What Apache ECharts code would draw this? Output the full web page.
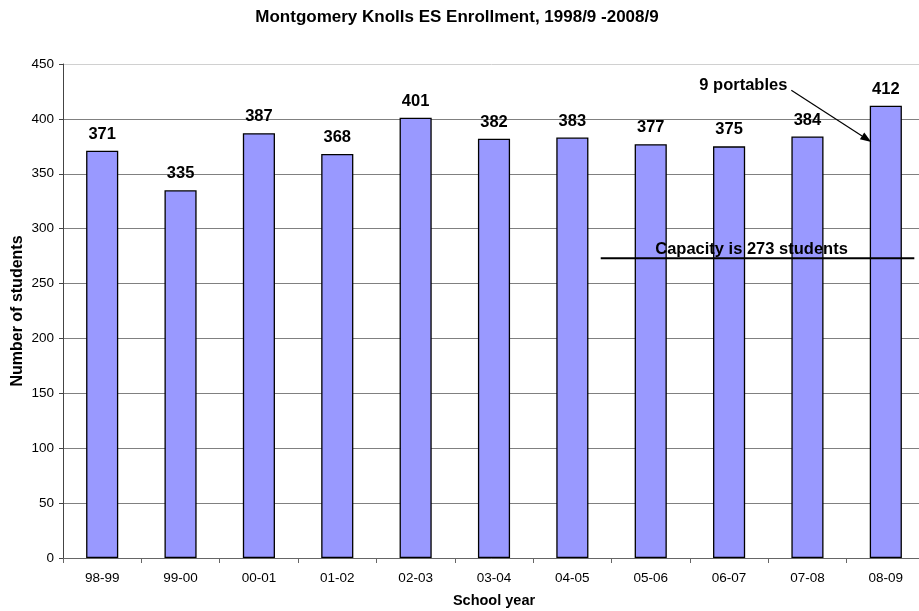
<!DOCTYPE html>
<html><head><meta charset="utf-8">
<script src="https://cdn.jsdelivr.net/npm/echarts@6/dist/echarts.min.js"></script>
<style>html,body{margin:0;padding:0;background:#fff}#c{width:919px;height:611px}</style>
</head><body><div id="c"></div>
<script>
const categories = ['98-99','99-00','00-01','01-02','02-03','03-04','04-05','05-06','06-07','07-08','08-09'];
const enrollment = [371,335,387,368,401,382,383,377,375,384,412];
const capacity = 273;
const yTicks = [0,50,100,150,200,250,300,350,400,450];

const chart = echarts.init(document.getElementById('c'));
const F = '"Liberation Sans", Arial, sans-serif';
const splitColors = yTicks.map((v,i)=> i===yTicks.length-1 ? '#d0d0d0' : '#808080');
chart.setOption({
  animation:false,
  backgroundColor:'#fff',
  title:{text:'Montgomery Knolls ES Enrollment, 1998/9 -2008/9',left:452,top:4,textAlign:'center',
    textStyle:{fontFamily:F,fontSize:17,fontWeight:'bold',color:'#000'}},
  grid:{left:63,top:64,width:862,height:494,show:false,containLabel:false,outerBoundsMode:'none'},
  xAxis:{type:'category',data:categories,name:'School year',nameLocation:'middle',nameGap:35,
    nameTextStyle:{fontFamily:F,fontSize:14.5,fontWeight:'bold',color:'#000'},
    axisLine:{lineStyle:{color:'#666'}},axisTick:{show:true,length:5,lineStyle:{color:'#666'}},
    axisLabel:{fontFamily:F,fontSize:13.5,color:'#000',margin:13}},
  yAxis:{type:'value',min:yTicks[0],max:yTicks[yTicks.length-1],interval:50,name:'Number of students',
    nameLocation:'middle',nameGap:37,nameMoveOverlap:false,nameTextStyle:{fontFamily:F,fontSize:16,fontWeight:'bold',color:'#000'},
    axisLine:{show:true,lineStyle:{color:'#444'}},axisTick:{show:true,length:4,lineStyle:{color:'#444'}},
    axisLabel:{fontFamily:F,fontSize:13.5,color:'#000',margin:9},
    splitLine:{lineStyle:{color:splitColors,width:1}}},
  series:[{type:'bar',data:enrollment,barWidth:'41%',
    itemStyle:{color:'#9999FF',borderColor:'#000',borderWidth:1.3},
    label:{show:true,position:'top',distance:8,fontFamily:F,fontSize:16.5,fontWeight:'bold',color:'#000'}}]
});

// annotations positioned via axis conversion
const px = c => chart.convertToPixel({xAxisIndex:0}, c);
const py = v => chart.convertToPixel({yAxisIndex:0}, v);
const capY = py(capacity);
const xCap0 = px('05-06') - 50;
const xCap1 = px('08-09') + 28.5;
const lastX = px('08-09');
const ax0 = lastX - 94.5, ay0 = py(426);
const ax1 = lastX - 14.5, ay1 = py(379);
const ang = Math.atan2(ay1-ay0, ax1-ax0);
const hl = 11, hw = 4;
const bx = ax1 - hl*Math.cos(ang), by = ay1 - hl*Math.sin(ang);
chart.setOption({graphic:[
  {type:'line',shape:{x1:xCap0,y1:capY,x2:xCap1,y2:capY},style:{stroke:'#000',lineWidth:2},z:100},
  {type:'text',x:(xCap0+xCap1)/2-6,y:capY-8.5,style:{text:'Capacity is 273 students',font:'bold 16.5px '+F,fill:'#000',textAlign:'center',textVerticalAlign:'middle'},z:101},
  {type:'text',x:ax0-4,y:ay0-5,style:{text:'9 portables',font:'bold 16.5px '+F,fill:'#000',textAlign:'right',textVerticalAlign:'middle'},z:100},
  {type:'line',shape:{x1:ax0,y1:ay0,x2:bx,y2:by},style:{stroke:'#000',lineWidth:1.2},z:100},
  {type:'polygon',shape:{points:[[ax1,ay1],[bx+hw*Math.sin(ang),by-hw*Math.cos(ang)],[bx-hw*Math.sin(ang),by+hw*Math.cos(ang)]]},style:{fill:'#000'},z:100}
]});
</script></body></html>
